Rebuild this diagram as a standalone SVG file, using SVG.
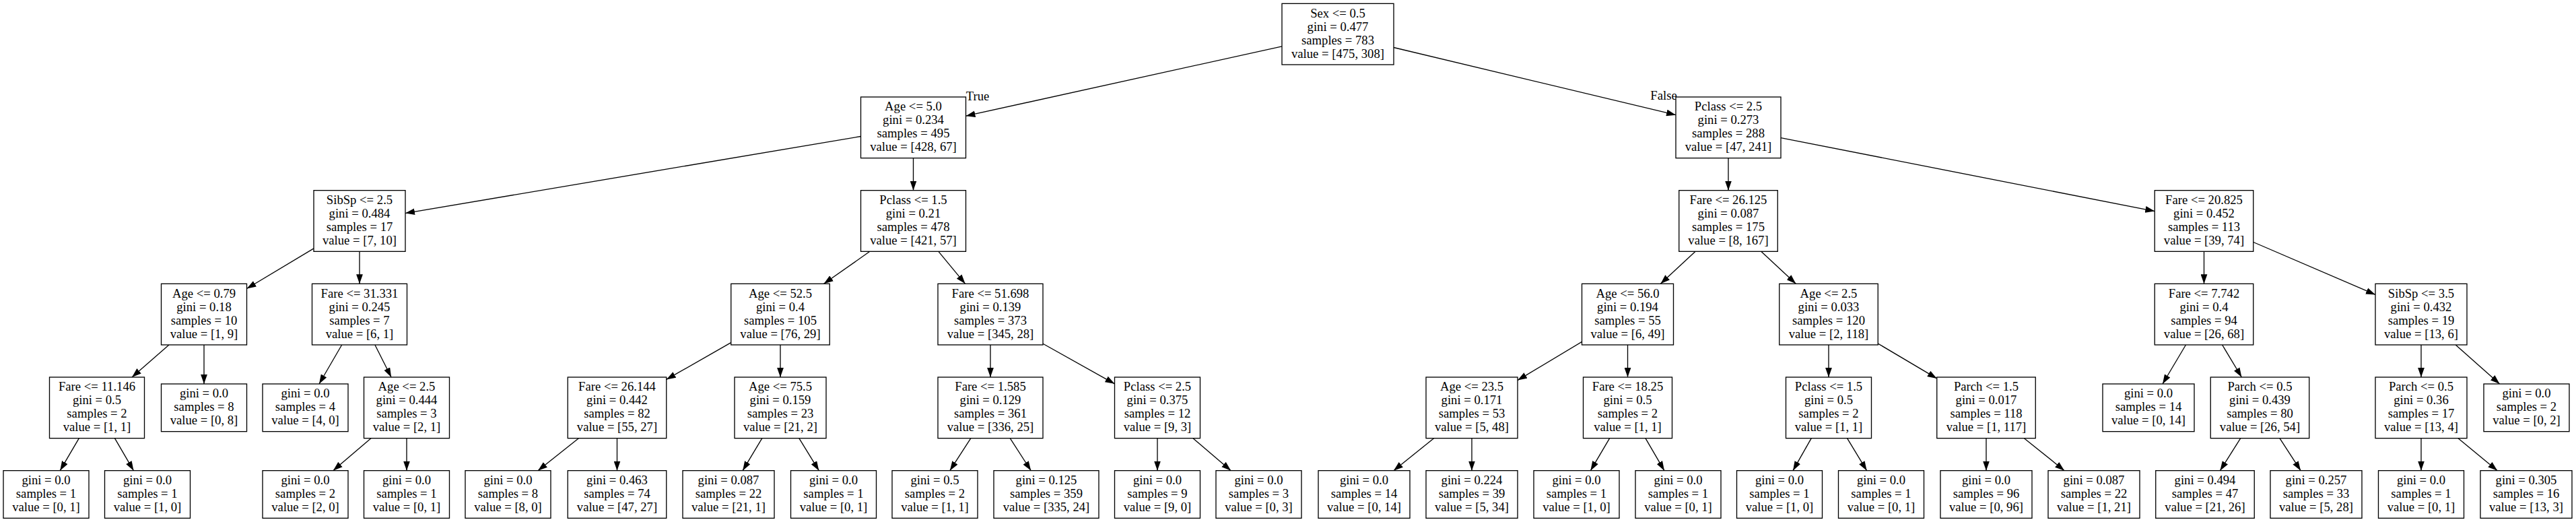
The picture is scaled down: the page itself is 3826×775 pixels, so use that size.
<svg xmlns="http://www.w3.org/2000/svg" width="3826" height="775" viewBox="0 0 3826 775">
<defs>
<marker id="arr" markerUnits="userSpaceOnUse" markerWidth="14" markerHeight="10" viewBox="0 0 13.33 9.33" refX="13.33" refY="4.67" orient="auto"><path d="M0,0 L13.33,4.67 L0,9.33 z" fill="#000"/></marker>
</defs>
<style>
.b{fill:#fff;stroke:#000;stroke-width:1.33}
text{font-family:"Liberation Serif","Times New Roman",serif;font-size:18.67px;text-anchor:middle;fill:#000}
.e{stroke:#000;stroke-width:1.33;fill:none;marker-end:url(#arr)}
</style>
<rect width="3826" height="775" fill="#fff"/>
<g id="connectors">
<path class="e" d="M1904,68.92 L1434.5,172.18"/>
<path class="e" d="M2070,70.52 L2489,170.68"/>
<path class="e" d="M1278.5,202.48 L602,316.54"/>
<path class="e" d="M1356.5,234.67 L1356.5,282.67"/>
<path class="e" d="M466,368.82 L366.5,428.55"/>
<path class="e" d="M534,373.33 L534,421.33"/>
<path class="e" d="M251,512 L196,560"/>
<path class="e" d="M303,512 L303,570"/>
<path class="e" d="M117.4,650.67 L89.2,698.67"/>
<path class="e" d="M170.4,650.67 L198.4,698.67"/>
<path class="e" d="M507.7,512 L474,570"/>
<path class="e" d="M556.9,512 L581.1,560"/>
<path class="e" d="M551,650.67 L494.8,698.67"/>
<path class="e" d="M604,650.67 L604,698.67"/>
<path class="e" d="M1291.9,373.33 L1223.6,421.33"/>
<path class="e" d="M1393.9,373.33 L1433.6,421.33"/>
<path class="e" d="M1085.75,508.56 L989.75,563.44"/>
<path class="e" d="M1159,512 L1159,560"/>
<path class="e" d="M859.4,650.67 L799,698.67"/>
<path class="e" d="M916.5,650.67 L916.5,698.67"/>
<path class="e" d="M1131.9,650.67 L1103.1,698.67"/>
<path class="e" d="M1186.8,650.67 L1216.3,698.67"/>
<path class="e" d="M1471,512 L1471,560"/>
<path class="e" d="M1549,510.28 L1655.5,569.83"/>
<path class="e" d="M1441.9,650.67 L1410.85,698.67"/>
<path class="e" d="M1500.2,650.67 L1531.2,698.67"/>
<path class="e" d="M1719,650.67 L1719,698.67"/>
<path class="e" d="M1772,650.67 L1828.2,698.67"/>
<path class="e" d="M2567,234.67 L2567,282.67"/>
<path class="e" d="M2645,204.64 L3200.25,313.62"/>
<path class="e" d="M2518.1,373.33 L2466.4,421.33"/>
<path class="e" d="M2615.7,373.33 L2667.3,421.33"/>
<path class="e" d="M2349.5,507.4 L2254,564.6"/>
<path class="e" d="M2417.5,512 L2417.5,560"/>
<path class="e" d="M2129.6,650.67 L2069.9,698.67"/>
<path class="e" d="M2186,650.67 L2186,698.67"/>
<path class="e" d="M2390.7,650.67 L2362.4,698.67"/>
<path class="e" d="M2443.9,650.67 L2471.9,698.67"/>
<path class="e" d="M2716,512 L2716,560"/>
<path class="e" d="M2789.25,510.08 L2876.75,561.92"/>
<path class="e" d="M2690.3,650.67 L2663,698.67"/>
<path class="e" d="M2743.5,650.67 L2772.6,698.67"/>
<path class="e" d="M2950,650.67 L2950,698.67"/>
<path class="e" d="M3006.4,650.67 L3066.1,698.67"/>
<path class="e" d="M3273.5,373.33 L3273.5,421.33"/>
<path class="e" d="M3346.75,359.5 L3528,437.43"/>
<path class="e" d="M3246.5,512 L3212,570"/>
<path class="e" d="M3300.6,512 L3329.4,560"/>
<path class="e" d="M3327.8,650.67 L3297.4,698.67"/>
<path class="e" d="M3385.9,650.67 L3417.1,698.67"/>
<path class="e" d="M3596,512 L3596,560"/>
<path class="e" d="M3647.2,512 L3712.6,570"/>
<path class="e" d="M3596,650.67 L3596,698.67"/>
<path class="e" d="M3651,650.67 L3709.2,698.67"/>
<text x="1452" y="149">True</text>
<text x="2471" y="148">False</text>
</g>
<g id="n0"><rect class="b" x="1904" y="5.33" width="166" height="90.67"/><text y="25.6"><tspan x="1987">Sex &lt;= 0.5</tspan><tspan x="1987" dy="20">gini = 0.477</tspan><tspan x="1987" dy="20">samples = 783</tspan><tspan x="1987" dy="20">value = [475, 308]</tspan></text></g>
<g id="n1"><rect class="b" x="1278.5" y="144" width="156" height="90.67"/><text y="164.26"><tspan x="1356.5">Age &lt;= 5.0</tspan><tspan x="1356.5" dy="20">gini = 0.234</tspan><tspan x="1356.5" dy="20">samples = 495</tspan><tspan x="1356.5" dy="20">value = [428, 67]</tspan></text></g>
<g id="n2"><rect class="b" x="466" y="282.67" width="136" height="90.67"/><text y="302.93"><tspan x="534">SibSp &lt;= 2.5</tspan><tspan x="534" dy="20">gini = 0.484</tspan><tspan x="534" dy="20">samples = 17</tspan><tspan x="534" dy="20">value = [7, 10]</tspan></text></g>
<g id="n3"><rect class="b" x="239.5" y="421.33" width="127" height="90.67"/><text y="441.6"><tspan x="303">Age &lt;= 0.79</tspan><tspan x="303" dy="20">gini = 0.18</tspan><tspan x="303" dy="20">samples = 10</tspan><tspan x="303" dy="20">value = [1, 9]</tspan></text></g>
<g id="n4"><rect class="b" x="73.5" y="560" width="141" height="90.67"/><text y="580.26"><tspan x="144">Fare &lt;= 11.146</tspan><tspan x="144" dy="20">gini = 0.5</tspan><tspan x="144" dy="20">samples = 2</tspan><tspan x="144" dy="20">value = [1, 1]</tspan></text></g>
<g id="n5"><rect class="b" x="5" y="698.67" width="127" height="70.67"/><text y="718.93"><tspan x="68.5">gini = 0.0</tspan><tspan x="68.5" dy="20">samples = 1</tspan><tspan x="68.5" dy="20">value = [0, 1]</tspan></text></g>
<g id="n6"><rect class="b" x="155.5" y="698.67" width="127" height="70.67"/><text y="718.93"><tspan x="219">gini = 0.0</tspan><tspan x="219" dy="20">samples = 1</tspan><tspan x="219" dy="20">value = [1, 0]</tspan></text></g>
<g id="n7"><rect class="b" x="239.5" y="570" width="127" height="70.67"/><text y="590.26"><tspan x="303">gini = 0.0</tspan><tspan x="303" dy="20">samples = 8</tspan><tspan x="303" dy="20">value = [0, 8]</tspan></text></g>
<g id="n8"><rect class="b" x="463.5" y="421.33" width="141" height="90.67"/><text y="441.6"><tspan x="534">Fare &lt;= 31.331</tspan><tspan x="534" dy="20">gini = 0.245</tspan><tspan x="534" dy="20">samples = 7</tspan><tspan x="534" dy="20">value = [6, 1]</tspan></text></g>
<g id="n9"><rect class="b" x="390" y="570" width="127" height="70.67"/><text y="590.26"><tspan x="453.5">gini = 0.0</tspan><tspan x="453.5" dy="20">samples = 4</tspan><tspan x="453.5" dy="20">value = [4, 0]</tspan></text></g>
<g id="n10"><rect class="b" x="540.5" y="560" width="127" height="90.67"/><text y="580.26"><tspan x="604">Age &lt;= 2.5</tspan><tspan x="604" dy="20">gini = 0.444</tspan><tspan x="604" dy="20">samples = 3</tspan><tspan x="604" dy="20">value = [2, 1]</tspan></text></g>
<g id="n11"><rect class="b" x="390" y="698.67" width="127" height="70.67"/><text y="718.93"><tspan x="453.5">gini = 0.0</tspan><tspan x="453.5" dy="20">samples = 2</tspan><tspan x="453.5" dy="20">value = [2, 0]</tspan></text></g>
<g id="n12"><rect class="b" x="540.5" y="698.67" width="127" height="70.67"/><text y="718.93"><tspan x="604">gini = 0.0</tspan><tspan x="604" dy="20">samples = 1</tspan><tspan x="604" dy="20">value = [0, 1]</tspan></text></g>
<g id="n13"><rect class="b" x="1278.5" y="282.67" width="156" height="90.67"/><text y="302.93"><tspan x="1356.5">Pclass &lt;= 1.5</tspan><tspan x="1356.5" dy="20">gini = 0.21</tspan><tspan x="1356.5" dy="20">samples = 478</tspan><tspan x="1356.5" dy="20">value = [421, 57]</tspan></text></g>
<g id="n14"><rect class="b" x="1085.75" y="421.33" width="146.5" height="90.67"/><text y="441.6"><tspan x="1159">Age &lt;= 52.5</tspan><tspan x="1159" dy="20">gini = 0.4</tspan><tspan x="1159" dy="20">samples = 105</tspan><tspan x="1159" dy="20">value = [76, 29]</tspan></text></g>
<g id="n15"><rect class="b" x="843.25" y="560" width="146.5" height="90.67"/><text y="580.26"><tspan x="916.5">Fare &lt;= 26.144</tspan><tspan x="916.5" dy="20">gini = 0.442</tspan><tspan x="916.5" dy="20">samples = 82</tspan><tspan x="916.5" dy="20">value = [55, 27]</tspan></text></g>
<g id="n16"><rect class="b" x="691" y="698.67" width="127" height="70.67"/><text y="718.93"><tspan x="754.5">gini = 0.0</tspan><tspan x="754.5" dy="20">samples = 8</tspan><tspan x="754.5" dy="20">value = [8, 0]</tspan></text></g>
<g id="n17"><rect class="b" x="843.25" y="698.67" width="146.5" height="70.67"/><text y="718.93"><tspan x="916.5">gini = 0.463</tspan><tspan x="916.5" dy="20">samples = 74</tspan><tspan x="916.5" dy="20">value = [47, 27]</tspan></text></g>
<g id="n18"><rect class="b" x="1091" y="560" width="136" height="90.67"/><text y="580.26"><tspan x="1159">Age &lt;= 75.5</tspan><tspan x="1159" dy="20">gini = 0.159</tspan><tspan x="1159" dy="20">samples = 23</tspan><tspan x="1159" dy="20">value = [21, 2]</tspan></text></g>
<g id="n19"><rect class="b" x="1014" y="698.67" width="136" height="70.67"/><text y="718.93"><tspan x="1082">gini = 0.087</tspan><tspan x="1082" dy="20">samples = 22</tspan><tspan x="1082" dy="20">value = [21, 1]</tspan></text></g>
<g id="n20"><rect class="b" x="1174.5" y="698.67" width="127" height="70.67"/><text y="718.93"><tspan x="1238">gini = 0.0</tspan><tspan x="1238" dy="20">samples = 1</tspan><tspan x="1238" dy="20">value = [0, 1]</tspan></text></g>
<g id="n21"><rect class="b" x="1393" y="421.33" width="156" height="90.67"/><text y="441.6"><tspan x="1471">Fare &lt;= 51.698</tspan><tspan x="1471" dy="20">gini = 0.139</tspan><tspan x="1471" dy="20">samples = 373</tspan><tspan x="1471" dy="20">value = [345, 28]</tspan></text></g>
<g id="n22"><rect class="b" x="1393" y="560" width="156" height="90.67"/><text y="580.26"><tspan x="1471">Fare &lt;= 1.585</tspan><tspan x="1471" dy="20">gini = 0.129</tspan><tspan x="1471" dy="20">samples = 361</tspan><tspan x="1471" dy="20">value = [336, 25]</tspan></text></g>
<g id="n23"><rect class="b" x="1325" y="698.67" width="127" height="70.67"/><text y="718.93"><tspan x="1388.5">gini = 0.5</tspan><tspan x="1388.5" dy="20">samples = 2</tspan><tspan x="1388.5" dy="20">value = [1, 1]</tspan></text></g>
<g id="n24"><rect class="b" x="1476" y="698.67" width="156" height="70.67"/><text y="718.93"><tspan x="1554">gini = 0.125</tspan><tspan x="1554" dy="20">samples = 359</tspan><tspan x="1554" dy="20">value = [335, 24]</tspan></text></g>
<g id="n25"><rect class="b" x="1655.5" y="560" width="127" height="90.67"/><text y="580.26"><tspan x="1719">Pclass &lt;= 2.5</tspan><tspan x="1719" dy="20">gini = 0.375</tspan><tspan x="1719" dy="20">samples = 12</tspan><tspan x="1719" dy="20">value = [9, 3]</tspan></text></g>
<g id="n26"><rect class="b" x="1655.5" y="698.67" width="127" height="70.67"/><text y="718.93"><tspan x="1719">gini = 0.0</tspan><tspan x="1719" dy="20">samples = 9</tspan><tspan x="1719" dy="20">value = [9, 0]</tspan></text></g>
<g id="n27"><rect class="b" x="1806" y="698.67" width="127" height="70.67"/><text y="718.93"><tspan x="1869.5">gini = 0.0</tspan><tspan x="1869.5" dy="20">samples = 3</tspan><tspan x="1869.5" dy="20">value = [0, 3]</tspan></text></g>
<g id="n28"><rect class="b" x="2489" y="144" width="156" height="90.67"/><text y="164.26"><tspan x="2567">Pclass &lt;= 2.5</tspan><tspan x="2567" dy="20">gini = 0.273</tspan><tspan x="2567" dy="20">samples = 288</tspan><tspan x="2567" dy="20">value = [47, 241]</tspan></text></g>
<g id="n29"><rect class="b" x="2493.75" y="282.67" width="146.5" height="90.67"/><text y="302.93"><tspan x="2567">Fare &lt;= 26.125</tspan><tspan x="2567" dy="20">gini = 0.087</tspan><tspan x="2567" dy="20">samples = 175</tspan><tspan x="2567" dy="20">value = [8, 167]</tspan></text></g>
<g id="n30"><rect class="b" x="2349.5" y="421.33" width="136" height="90.67"/><text y="441.6"><tspan x="2417.5">Age &lt;= 56.0</tspan><tspan x="2417.5" dy="20">gini = 0.194</tspan><tspan x="2417.5" dy="20">samples = 55</tspan><tspan x="2417.5" dy="20">value = [6, 49]</tspan></text></g>
<g id="n31"><rect class="b" x="2118" y="560" width="136" height="90.67"/><text y="580.26"><tspan x="2186">Age &lt;= 23.5</tspan><tspan x="2186" dy="20">gini = 0.171</tspan><tspan x="2186" dy="20">samples = 53</tspan><tspan x="2186" dy="20">value = [5, 48]</tspan></text></g>
<g id="n32"><rect class="b" x="1958" y="698.67" width="136" height="70.67"/><text y="718.93"><tspan x="2026">gini = 0.0</tspan><tspan x="2026" dy="20">samples = 14</tspan><tspan x="2026" dy="20">value = [0, 14]</tspan></text></g>
<g id="n33"><rect class="b" x="2118" y="698.67" width="136" height="70.67"/><text y="718.93"><tspan x="2186">gini = 0.224</tspan><tspan x="2186" dy="20">samples = 39</tspan><tspan x="2186" dy="20">value = [5, 34]</tspan></text></g>
<g id="n34"><rect class="b" x="2351.5" y="560" width="132" height="90.67"/><text y="580.26"><tspan x="2417.5">Fare &lt;= 18.25</tspan><tspan x="2417.5" dy="20">gini = 0.5</tspan><tspan x="2417.5" dy="20">samples = 2</tspan><tspan x="2417.5" dy="20">value = [1, 1]</tspan></text></g>
<g id="n35"><rect class="b" x="2278" y="698.67" width="127" height="70.67"/><text y="718.93"><tspan x="2341.5">gini = 0.0</tspan><tspan x="2341.5" dy="20">samples = 1</tspan><tspan x="2341.5" dy="20">value = [1, 0]</tspan></text></g>
<g id="n36"><rect class="b" x="2429" y="698.67" width="127" height="70.67"/><text y="718.93"><tspan x="2492.5">gini = 0.0</tspan><tspan x="2492.5" dy="20">samples = 1</tspan><tspan x="2492.5" dy="20">value = [0, 1]</tspan></text></g>
<g id="n37"><rect class="b" x="2642.75" y="421.33" width="146.5" height="90.67"/><text y="441.6"><tspan x="2716">Age &lt;= 2.5</tspan><tspan x="2716" dy="20">gini = 0.033</tspan><tspan x="2716" dy="20">samples = 120</tspan><tspan x="2716" dy="20">value = [2, 118]</tspan></text></g>
<g id="n38"><rect class="b" x="2652.5" y="560" width="127" height="90.67"/><text y="580.26"><tspan x="2716">Pclass &lt;= 1.5</tspan><tspan x="2716" dy="20">gini = 0.5</tspan><tspan x="2716" dy="20">samples = 2</tspan><tspan x="2716" dy="20">value = [1, 1]</tspan></text></g>
<g id="n39"><rect class="b" x="2579.5" y="698.67" width="127" height="70.67"/><text y="718.93"><tspan x="2643">gini = 0.0</tspan><tspan x="2643" dy="20">samples = 1</tspan><tspan x="2643" dy="20">value = [1, 0]</tspan></text></g>
<g id="n40"><rect class="b" x="2730.5" y="698.67" width="127" height="70.67"/><text y="718.93"><tspan x="2794">gini = 0.0</tspan><tspan x="2794" dy="20">samples = 1</tspan><tspan x="2794" dy="20">value = [0, 1]</tspan></text></g>
<g id="n41"><rect class="b" x="2876.75" y="560" width="146.5" height="90.67"/><text y="580.26"><tspan x="2950">Parch &lt;= 1.5</tspan><tspan x="2950" dy="20">gini = 0.017</tspan><tspan x="2950" dy="20">samples = 118</tspan><tspan x="2950" dy="20">value = [1, 117]</tspan></text></g>
<g id="n42"><rect class="b" x="2882" y="698.67" width="136" height="70.67"/><text y="718.93"><tspan x="2950">gini = 0.0</tspan><tspan x="2950" dy="20">samples = 96</tspan><tspan x="2950" dy="20">value = [0, 96]</tspan></text></g>
<g id="n43"><rect class="b" x="3042" y="698.67" width="136" height="70.67"/><text y="718.93"><tspan x="3110">gini = 0.087</tspan><tspan x="3110" dy="20">samples = 22</tspan><tspan x="3110" dy="20">value = [1, 21]</tspan></text></g>
<g id="n44"><rect class="b" x="3200.25" y="282.67" width="146.5" height="90.67"/><text y="302.93"><tspan x="3273.5">Fare &lt;= 20.825</tspan><tspan x="3273.5" dy="20">gini = 0.452</tspan><tspan x="3273.5" dy="20">samples = 113</tspan><tspan x="3273.5" dy="20">value = [39, 74]</tspan></text></g>
<g id="n45"><rect class="b" x="3200.25" y="421.33" width="146.5" height="90.67"/><text y="441.6"><tspan x="3273.5">Fare &lt;= 7.742</tspan><tspan x="3273.5" dy="20">gini = 0.4</tspan><tspan x="3273.5" dy="20">samples = 94</tspan><tspan x="3273.5" dy="20">value = [26, 68]</tspan></text></g>
<g id="n46"><rect class="b" x="3123" y="570" width="136" height="70.67"/><text y="590.26"><tspan x="3191">gini = 0.0</tspan><tspan x="3191" dy="20">samples = 14</tspan><tspan x="3191" dy="20">value = [0, 14]</tspan></text></g>
<g id="n47"><rect class="b" x="3283.25" y="560" width="146.5" height="90.67"/><text y="580.26"><tspan x="3356.5">Parch &lt;= 0.5</tspan><tspan x="3356.5" dy="20">gini = 0.439</tspan><tspan x="3356.5" dy="20">samples = 80</tspan><tspan x="3356.5" dy="20">value = [26, 54]</tspan></text></g>
<g id="n48"><rect class="b" x="3201.75" y="698.67" width="146.5" height="70.67"/><text y="718.93"><tspan x="3275">gini = 0.494</tspan><tspan x="3275" dy="20">samples = 47</tspan><tspan x="3275" dy="20">value = [21, 26]</tspan></text></g>
<g id="n49"><rect class="b" x="3372" y="698.67" width="136" height="70.67"/><text y="718.93"><tspan x="3440">gini = 0.257</tspan><tspan x="3440" dy="20">samples = 33</tspan><tspan x="3440" dy="20">value = [5, 28]</tspan></text></g>
<g id="n50"><rect class="b" x="3528" y="421.33" width="136" height="90.67"/><text y="441.6"><tspan x="3596">SibSp &lt;= 3.5</tspan><tspan x="3596" dy="20">gini = 0.432</tspan><tspan x="3596" dy="20">samples = 19</tspan><tspan x="3596" dy="20">value = [13, 6]</tspan></text></g>
<g id="n51"><rect class="b" x="3528" y="560" width="136" height="90.67"/><text y="580.26"><tspan x="3596">Parch &lt;= 0.5</tspan><tspan x="3596" dy="20">gini = 0.36</tspan><tspan x="3596" dy="20">samples = 17</tspan><tspan x="3596" dy="20">value = [13, 4]</tspan></text></g>
<g id="n52"><rect class="b" x="3532.5" y="698.67" width="127" height="70.67"/><text y="718.93"><tspan x="3596">gini = 0.0</tspan><tspan x="3596" dy="20">samples = 1</tspan><tspan x="3596" dy="20">value = [0, 1]</tspan></text></g>
<g id="n53"><rect class="b" x="3684" y="698.67" width="136" height="70.67"/><text y="718.93"><tspan x="3752">gini = 0.305</tspan><tspan x="3752" dy="20">samples = 16</tspan><tspan x="3752" dy="20">value = [13, 3]</tspan></text></g>
<g id="n54"><rect class="b" x="3689" y="570" width="127" height="70.67"/><text y="590.26"><tspan x="3752.5">gini = 0.0</tspan><tspan x="3752.5" dy="20">samples = 2</tspan><tspan x="3752.5" dy="20">value = [0, 2]</tspan></text></g>
</svg>
